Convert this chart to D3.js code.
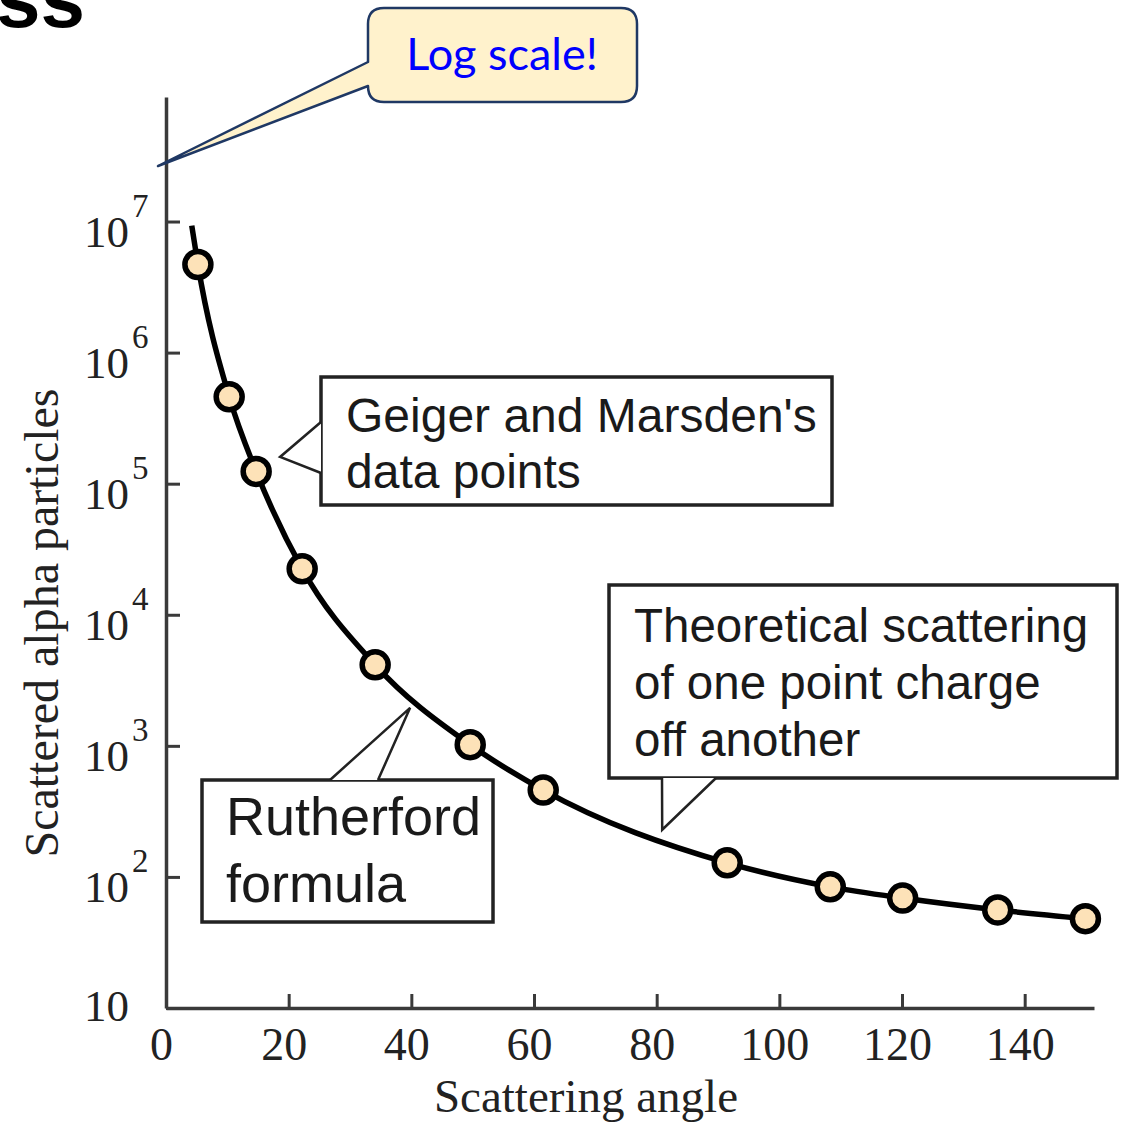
<!DOCTYPE html>
<html>
<head>
<meta charset="utf-8">
<script src="https://cdn.jsdelivr.net/npm/d3@7"></script>
<style>
  body { margin: 0; background: #fff; }
  svg { display: block; }
</style>
</head>
<body>
<div id="chart"></div>
<script>
// Geiger and Marsden's data points (angle in degrees, scattered count)
var angles = [5.2, 10.3, 14.7, 22.2, 34.1, 49.6, 61.5, 91.5, 108.3, 120.1, 135.6, 149.9];
var counts = [4.7e6, 4.6e5, 1.24e5, 2.24e4, 4150, 1020, 460, 128, 84, 69, 56, 48];

// Rutherford formula curve
var curveAngles = [4.2, 5.2, 10.3, 14.7, 22.2, 34.1, 49.6, 61.5, 91.5, 108.3, 120.1, 135.6, 149.9];
var curveCounts = [9.3e6, 4.7e6, 4.6e5, 1.24e5, 2.24e4, 4150, 1020, 460, 128, 84, 69, 56, 48];

var xTicks = [0, 20, 40, 60, 80, 100, 120, 140];
var yTicks = [10, 1e2, 1e3, 1e4, 1e5, 1e6, 1e7];

var width = 1130, height = 1128;
var serif = '"Liberation Serif", "Times New Roman", serif';
var sans = '"Liberation Sans", Arial, Helvetica, sans-serif';

var svg = d3.select('#chart').append('svg')
    .attr('width', width)
    .attr('height', height);

var x = d3.scaleLinear().domain([0, 151.3]).range([166, 1094]);
var y = d3.scaleLog().domain([10, Math.pow(10, 7.95)]).range([1008, 97]);

// cut-off title fragment at top left
svg.append('text')
    .attr('x', -4)
    .attr('y', 27)
    .attr('font-family', sans)
    .attr('font-weight', 'bold')
    .attr('font-size', 80)
    .attr('fill', '#000')
    .text('ss');

// axes
var xAxis = svg.append('g')
    .attr('transform', 'translate(0,' + y(10) + ')')
    .call(d3.axisBottom(x).tickValues(xTicks).tickSizeInner(-14).tickSizeOuter(0));

var yAxis = svg.append('g')
    .attr('transform', 'translate(' + x(0) + ',0)')
    .call(d3.axisLeft(y).tickValues(yTicks).tickSizeInner(-14).tickSizeOuter(0).tickFormat(''));

[xAxis, yAxis].forEach(function (ax) {
    ax.select('.domain').attr('stroke', '#3a3a3a').attr('stroke-width', 3.5);
    ax.selectAll('.tick line').attr('stroke', '#3a3a3a').attr('stroke-width', 3);
});

xAxis.selectAll('.tick text')
    .attr('y', 52)
    .attr('dy', null)
    .attr('dx', -5)
    .attr('font-family', serif)
    .attr('font-size', 46)
    .attr('fill', '#222');

// y tick labels: 10 with superscript exponent
yAxis.selectAll('.tick').each(function (d) {
    var g = d3.select(this);
    var p = Math.round(Math.log10(d));
    g.append('text')
        .attr('x', -37)
        .attr('y', p === 1 ? 12 : 25)
        .attr('text-anchor', 'end')
        .attr('font-family', serif)
        .attr('font-size', 45)
        .attr('fill', '#222')
        .text('10');
    if (p > 1) {
        g.append('text')
            .attr('x', -34)
            .attr('y', -5)
            .attr('text-anchor', 'start')
            .attr('font-family', serif)
            .attr('font-size', 33)
            .attr('fill', '#222')
            .text(p);
    }
});

// axis titles
svg.append('text')
    .attr('x', 586)
    .attr('y', 1112)
    .attr('text-anchor', 'middle')
    .attr('font-family', serif)
    .attr('font-size', 47)
    .attr('fill', '#222')
    .text('Scattering angle');

svg.append('text')
    .attr('transform', 'translate(58,623) rotate(-90)')
    .attr('text-anchor', 'middle')
    .attr('font-family', serif)
    .attr('font-size', 48)
    .attr('fill', '#222')
    .text('Scattered alpha particles');

// Rutherford curve
var line = d3.line()
    .x(function (d, i) { return x(curveAngles[i]); })
    .y(function (d, i) { return y(curveCounts[i]); })
    .curve(d3.curveMonotoneX);

svg.append('path')
    .datum(curveAngles)
    .attr('d', line)
    .attr('fill', 'none')
    .attr('stroke', '#000')
    .attr('stroke-width', 5.5);

// data points
svg.append('g').selectAll('circle')
    .data(angles)
    .enter().append('circle')
        .attr('cx', function (d) { return x(d); })
        .attr('cy', function (d, i) { return y(counts[i]); })
        .attr('r', 13)
        .attr('fill', '#fde2b8')
        .attr('stroke', '#000')
        .attr('stroke-width', 5.5);

// callout boxes with pointer
function callout(box, base, tip, lines, fontSize, lineGap) {
    var g = svg.append('g');
    g.append('rect')
        .attr('x', box.x).attr('y', box.y)
        .attr('width', box.w).attr('height', box.h)
        .attr('fill', '#fff')
        .attr('stroke', '#222')
        .attr('stroke-width', 3.5);
    // cover the box edge where the pointer leaves it
    g.append('path')
        .attr('d', 'M' + base[0] + 'L' + tip + 'L' + base[1] + 'Z')
        .attr('fill', '#fff');
    g.append('path')
        .attr('d', 'M' + base[0] + 'L' + tip + 'L' + base[1])
        .attr('fill', 'none')
        .attr('stroke', '#222')
        .attr('stroke-width', 2.5);
    lines.forEach(function (t, i) {
        g.append('text')
            .attr('x', box.tx)
            .attr('y', box.ty + i * lineGap)
            .attr('font-family', sans)
            .attr('font-size', fontSize)
            .attr('fill', '#1a1a1a')
            .text(t);
    });
}

callout({x: 321, y: 377, w: 511, h: 128, tx: 346, ty: 432},
    [[321, 422], [321, 473]], [x(18.6), y(1.6e5)],
    ["Geiger and Marsden's", 'data points'], 48, 56);

callout({x: 202, y: 780, w: 291, h: 142, tx: 226, ty: 835},
    [[330, 780], [378, 780]], [x(39.8), y(1950)],
    ['Rutherford', 'formula'], 54, 67);

callout({x: 609, y: 585, w: 508, h: 193, tx: 634, ty: 642},
    [[662, 778], [716, 778]], [x(80.9), y(229)],
    ['Theoretical scattering', 'of one point charge', 'off another'], 47.5, 57);

// "Log scale!" speech bubble
var L = 368, R = 637, T = 8, B = 102, r = 16;
var bubble = 'M' + (L + r) + ',' + T + 'H' + (R - r) + 'Q' + R + ',' + T + ' ' + R + ',' + (T + r) +
    'V' + (B - r) + 'Q' + R + ',' + B + ' ' + (R - r) + ',' + B +
    'H' + (L + r) + 'Q' + L + ',' + B + ' ' + L + ',' + (B - r) +
    'V86L158,166L' + L + ',62V' + (T + r) + 'Q' + L + ',' + T + ' ' + (L + r) + ',' + T + 'Z';

svg.append('path')
    .attr('d', bubble)
    .attr('fill', '#fff2cc')
    .attr('stroke', '#1f3864')
    .attr('stroke-width', 2.5)
    .attr('stroke-linejoin', 'round');

svg.append('text')
    .attr('x', 502)
    .attr('y', 70)
    .attr('text-anchor', 'middle')
    .attr('font-family', 'Lato, "Open Sans", sans-serif')
    .attr('font-size', 45)
    .attr('fill', '#0000ff')
    .text('Log scale!');
</script>
</body>
</html>
